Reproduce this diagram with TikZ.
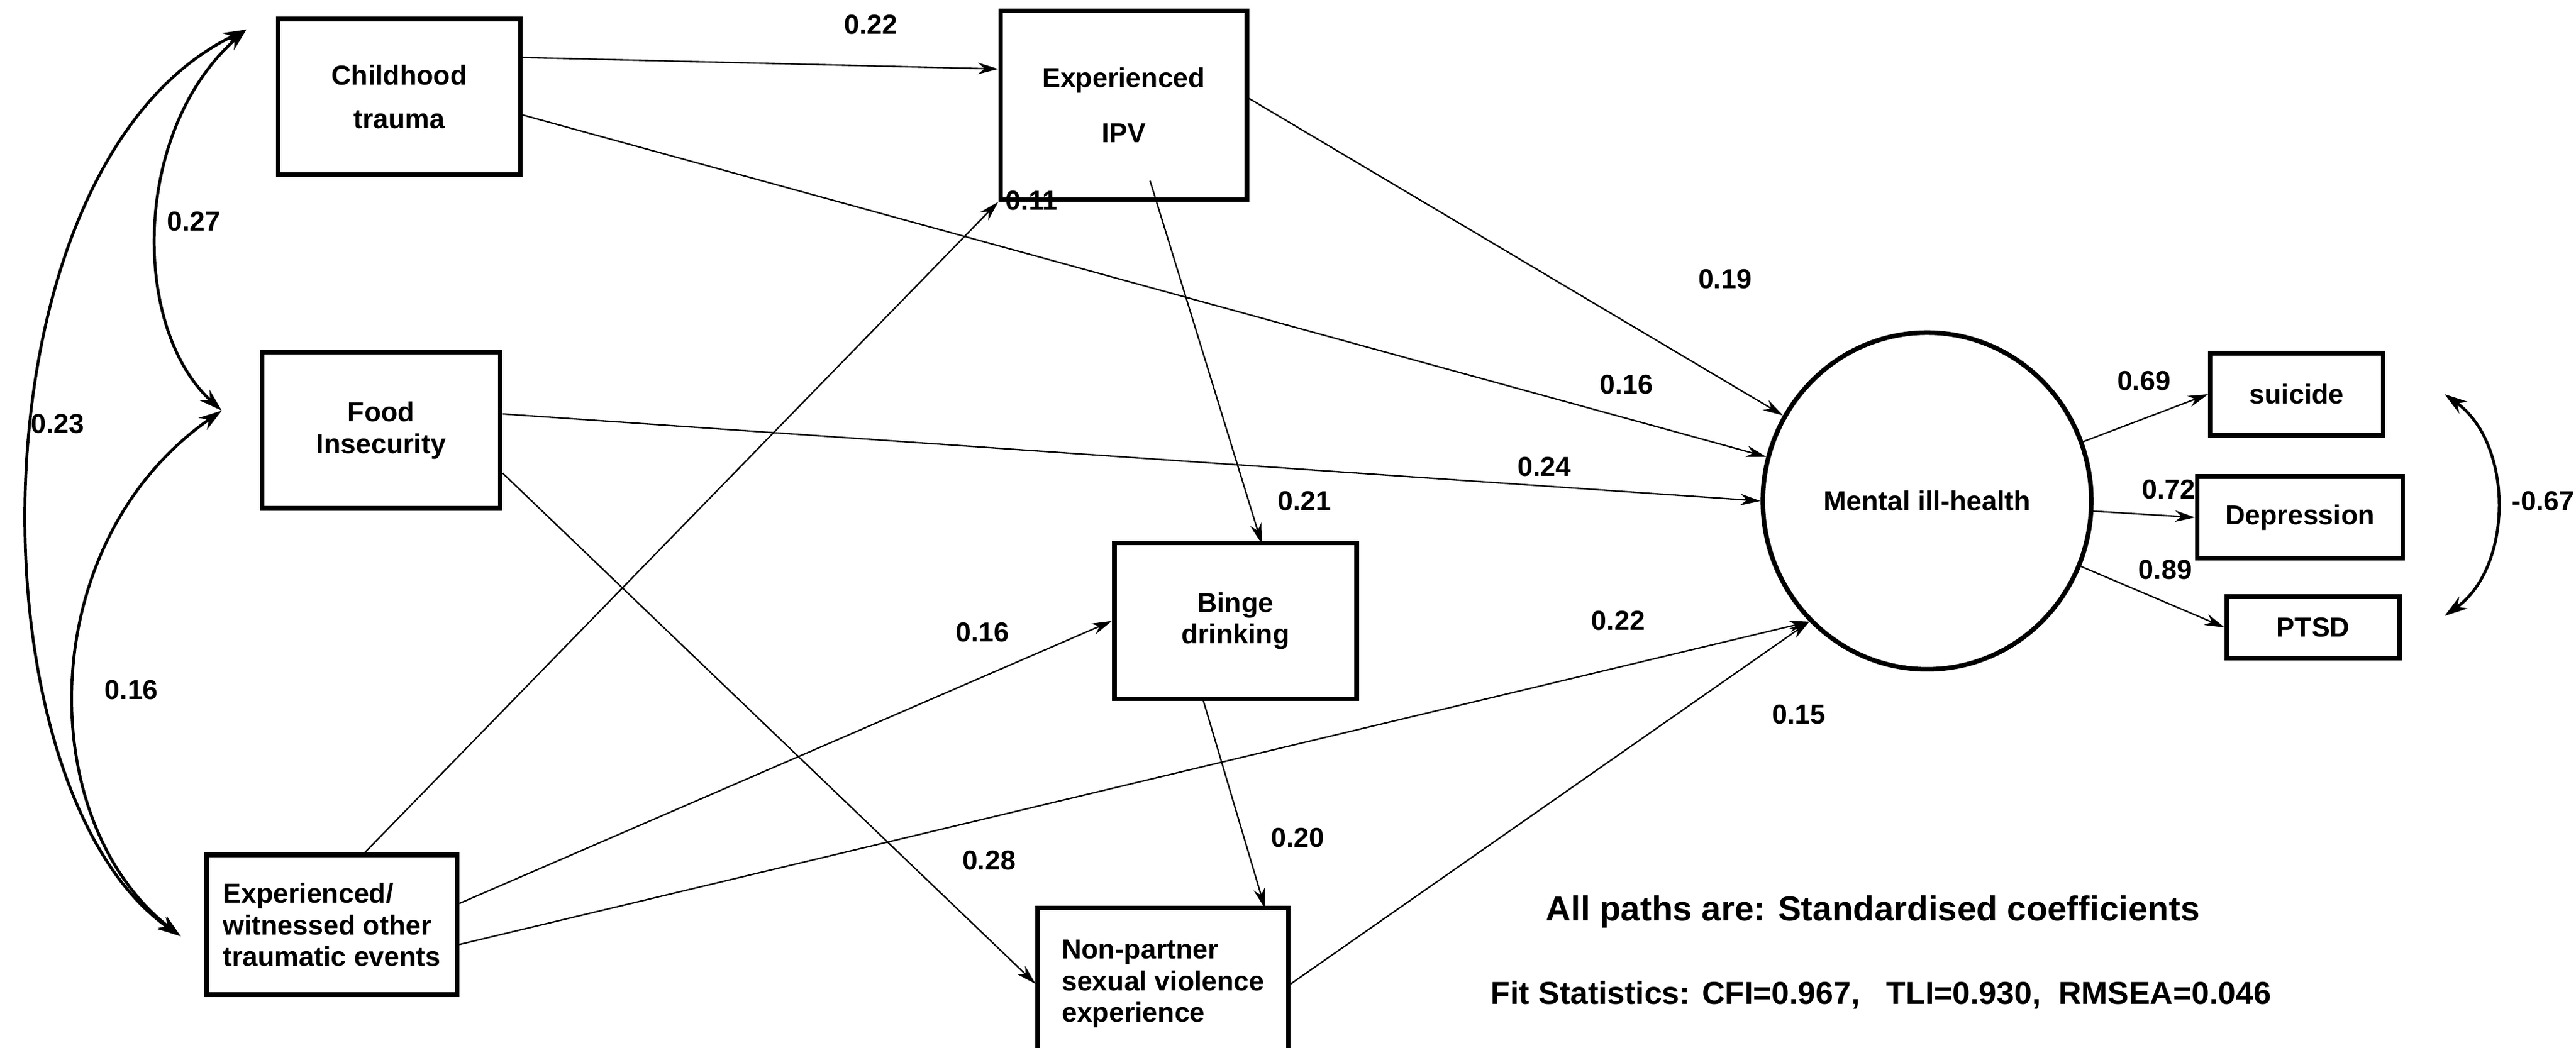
\documentclass[tikz,border=0pt]{standalone}
\usepackage{fontspec}
\setmainfont{Liberation Sans}
\usetikzlibrary{arrows.meta,shapes.geometric}
\begin{document}
\begin{tikzpicture}[x=0.02cm,y=-0.02cm,
 every node/.style={font=\fontsize{9.5}{11}\selectfont\bfseries},
 box/.style={draw,line width=1.6pt,align=center,inner sep=0pt},
 path/.style={-{Stealth[length=7pt,width=4pt]},line width=0.5pt},
 cov/.style={{Stealth[length=8pt,width=5pt]}-{Stealth[length=8pt,width=5pt]},line width=1pt}]
\useasboundingbox (0,0) rectangle (1568,638);
\node[box,minimum width=2.95cm,minimum height=1.9cm] (ct) at (243,59) {Childhood\\[4pt]trauma};
\node[box,minimum width=3cm,minimum height=2.3cm] (ipv) at (684,64) {Experienced\\[8pt]IPV};
\node[box,minimum width=2.9cm,minimum height=1.9cm] (fi) at (232,262) {Food\\Insecurity};
\node[box,minimum width=2.95cm,minimum height=1.9cm] (bd) at (752,378) {Binge\\drinking};
\node[box,minimum width=3.05cm,minimum height=1.7cm,align=left] (ex) at (202,563) {Experienced/\\witnessed other\\traumatic events};
\node[box,minimum width=3.05cm,minimum height=1.85cm,align=left] (np) at (708,599) {Non-partner\\sexual violence\\experience};
\node[draw,ellipse,line width=1.6pt,minimum width=4cm,minimum height=4.1cm] (mh) at (1173,305) {Mental ill-health};
\node[box,minimum width=2.1cm,minimum height=1cm] (su) at (1398,240) {suicide};
\node[box,minimum width=2.5cm,minimum height=1cm] (de) at (1400,315) {Depression};
\node[box,minimum width=2.1cm,minimum height=0.75cm] (pt) at (1408,382) {PTSD};
\coordinate (ipvb) at (700,110);
\coordinate (bdt) at (768,331);
\coordinate (bdb) at (732,425);
\coordinate (npt) at (770,553);
\draw[path] (ct.east|-0,35) -- (ipv.west|-0,42);
\draw[path] (ct.east|-0,70) -- (mh);
\draw[path] (ipv.east|-0,60) -- (mh);
\draw[path] (ipvb) -- (bdt);
\draw[path] (fi.east|-0,252) -- (mh.west);
\draw[path] (fi.east|-0,288) -- (np.west);
\draw[path] (ex.north) ++(20,0) -- (ipv.south west);
\draw[path] (ex.east|-0,550) -- (bd.west);
\draw[path] (ex.east|-0,575) -- (mh.south west);
\draw[path] (bdb) -- (npt);
\draw[path] (np.east) -- (mh.south west);
\draw[path] (mh) -- (su.west);
\draw[path] (mh) -- (de.west);
\draw[path] (mh) -- (pt.west);
\coordinate (c1) at (150,18);
\coordinate (c2) at (135,250);
\coordinate (c3) at (110,570);
\draw[cov] (c1) .. controls (80,80) and (80,200) .. (c2);
\draw[cov] (c2) .. controls (20,330) and (20,500) .. (c3);
\draw[cov] (c1) .. controls (-20,100) and (-20,480) .. (c3);
\coordinate (c4) at (1488,240);
\coordinate (c5) at (1488,375);
\draw[cov] (c4) .. controls (1530,270) and (1530,345) .. (c5);
\node at (530,15) {0.22};
\node at (990,234) {0.16};
\node at (1050,170) {0.19};
\node at (794,305) {0.21};
\node at (940,284) {0.24};
\node at (602,524) {0.28};
\node at (628,122) {0.11};
\node at (598,385) {0.16};
\node at (985,378) {0.22};
\node at (790,510) {0.20};
\node at (1095,435) {0.15};
\node at (1305,232) {0.69};
\node at (1320,298) {0.72};
\node at (1318,347) {0.89};
\node at (1548,305) {-0.67};
\node at (118,135) {0.27};
\node at (35,258) {0.23};
\node at (80,420) {0.16};
\node[font=\fontsize{12}{14}\selectfont\bfseries] at (1140,555) {All paths are: Standardised coefficients};
\node[font=\fontsize{11}{13}\selectfont\bfseries] at (1145,606) {Fit Statistics: CFI=0.967,\ \ \ TLI=0.930,\ \ RMSEA=0.046};
\end{tikzpicture}
\end{document}
